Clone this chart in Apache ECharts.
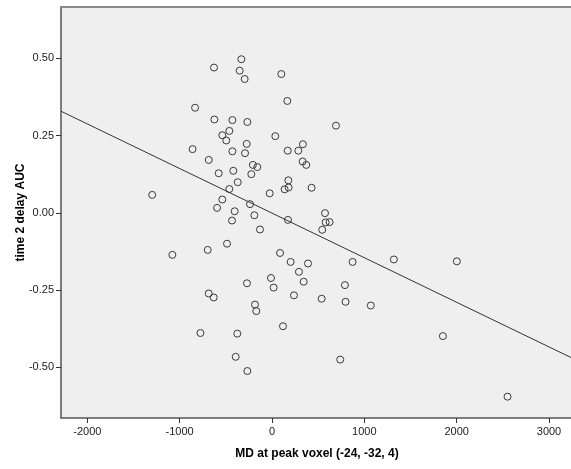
<!DOCTYPE html>
<html>
<head>
<meta charset="utf-8">
<script src="https://cdn.jsdelivr.net/npm/echarts@6/dist/echarts.min.js"></script>
<style>
html,body{margin:0;padding:0;background:#fff;overflow:hidden;}
#chart{width:573px;height:469px;}
</style>
</head>
<body>
<div id="chart"></div>
<script>
// MD at peak voxel values
var mdValues = [-833,-860,-1297,-1079,-628,-332,-350,-296,101,166,-624,-429,-267,693,-462,-538,-495,36,-274,335,-429,-292,170,285,332,371,-685,-207,-159,-577,-419,-224,-371,177,137,180,429,-462,-25,-538,-595,-238,-404,-433,-191,173,574,581,624,544,-130,-696,-487,87,202,390,873,292,343,-11,18,-271,790,238,538,797,1070,-685,-631,-184,-170,119,-775,-376,-393,-267,739,1320,2002,1851,2551];
// time 2 delay AUC values
var aucValues = [0.340,0.206,0.058,-0.136,0.470,0.497,0.460,0.433,0.449,0.362,0.302,0.300,0.294,0.282,0.265,0.251,0.234,0.248,0.223,0.222,0.199,0.193,0.201,0.201,0.166,0.155,0.171,0.155,0.148,0.128,0.136,0.125,0.099,0.105,0.076,0.082,0.081,0.077,0.063,0.043,0.016,0.028,0.005,-0.025,-0.008,-0.023,-0.001,-0.031,-0.030,-0.055,-0.054,-0.120,-0.100,-0.130,-0.159,-0.164,-0.159,-0.191,-0.223,-0.211,-0.242,-0.228,-0.234,-0.267,-0.278,-0.288,-0.300,-0.261,-0.274,-0.297,-0.318,-0.367,-0.389,-0.391,-0.466,-0.512,-0.475,-0.151,-0.157,-0.399,-0.595];
// axis tick labels
var xTicks = [-2000,-1000,0,1000,2000,3000];
var yTicks = [-0.50,-0.25,0.00,0.25,0.50];
// fit line
var fitSlope = -0.0001443;
var fitIntercept = -0.001;
var xMin = -2285, xMax = 3260, yMin = -0.664, yMax = 0.666;

var points = mdValues.map(function(v,i){return [v, aucValues[i]];});
var fitLine = [[xMin, fitIntercept + fitSlope*xMin],[xMax, fitIntercept + fitSlope*xMax]];

var chart = echarts.init(document.getElementById('chart'), null, {renderer:'canvas'});
var labelFont = {fontFamily:'Liberation Sans, Arial, sans-serif', fontSize:11, color:'#222'};
chart.setOption({
  animation:false,
  grid:{left:61, top:7, right:0, bottom:51, show:false, outerBoundsMode:'none', containLabel:false},
  xAxis:[{
    type:'value', min:xMin, max:xMax,
    name:'MD at peak voxel (-24, -32, 4)', nameLocation:'middle', nameGap:30, nameMoveOverlap:false,
    nameTextStyle:{fontFamily:'Liberation Sans, Arial, sans-serif', fontSize:12, fontWeight:'bold', color:'#000'},
    axisLine:{show:true, onZero:false, lineStyle:{color:'#555', width:1.5}},
    axisTick:{show:true, length:5, customValues:xTicks, lineStyle:{color:'#333'}},
    axisLabel:Object.assign({customValues:xTicks, margin:8, formatter:function(v){return String(v);}}, labelFont),
    splitLine:{show:false}
  },{
    type:'value', position:'top', min:xMin, max:xMax,
    axisLine:{show:true, onZero:false, lineStyle:{color:'#888', width:2}},
    axisTick:{show:false}, axisLabel:{show:false}, splitLine:{show:false},
    splitArea:{show:true, areaStyle:{color:['#efefef','#efefef']}}
  }],
  yAxis:{
    type:'value', min:yMin, max:yMax,
    name:'time 2 delay AUC', nameLocation:'middle', nameGap:34, nameRotate:90, nameMoveOverlap:false,
    nameTextStyle:{fontFamily:'Liberation Sans, Arial, sans-serif', fontSize:12, fontWeight:'bold', color:'#000'},
    axisLine:{show:true, onZero:false, lineStyle:{color:'#555', width:1.5}},
    axisTick:{show:true, length:5, customValues:yTicks, lineStyle:{color:'#333'}},
    axisLabel:Object.assign({customValues:yTicks, margin:7, formatter:function(v){return v.toFixed(2);}}, labelFont),
    splitLine:{show:false}
  },
  series:[{
    type:'scatter', data:points, symbol:'circle', symbolSize:7,
    itemStyle:{color:'rgba(0,0,0,0)', borderColor:'#3a3a3a', borderWidth:1, opacity:1},
    emphasis:{disabled:true}, silent:true
  },{
    type:'line', data:fitLine, symbol:'none', silent:true,
    lineStyle:{color:'#333', width:1}
  }]
});
</script>
</body>
</html>
